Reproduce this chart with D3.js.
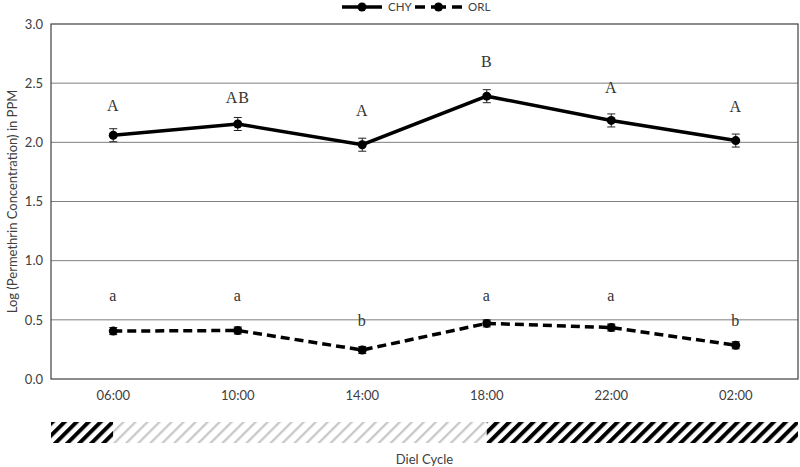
<!DOCTYPE html>
<html>
<head>
<meta charset="utf-8">
<script src="https://cdn.jsdelivr.net/npm/d3@7"></script>
<style>
  body { margin: 0; background: #fff; }
  svg { display: block; font-family: Lato, "Open Sans", sans-serif; }
</style>
</head>
<body>
<div id="chart"></div>
<script>
////////////////////////////////////////////////////////////////////////////////
// Data
var times = ['06:00', '10:00', '14:00', '18:00', '22:00', '02:00'];

var chyValues = [2.06, 2.155, 1.98, 2.39, 2.185, 2.015];
var chyErr    = [0.055, 0.055, 0.055, 0.055, 0.055, 0.055];
var chyLetters = ['A', 'AB', 'A', 'B', 'A', 'A'];
var chyLetterY = [2.30, 2.36, 2.25, 2.67, 2.45, 2.29];

var orlValues = [0.405, 0.41, 0.245, 0.47, 0.435, 0.285];
var orlErr    = [0.03, 0.03, 0.03, 0.03, 0.03, 0.03];
var orlLetters = ['a', 'a', 'b', 'a', 'a', 'b'];
var orlLetterY = [0.69, 0.69, 0.48, 0.69, 0.69, 0.48];

var yTicks = [0, 0.5, 1.0, 1.5, 2.0, 2.5, 3.0];

// light period (06:00 -> 18:00) and dark period for the diel bar
var dielBands = [
  {from: null, to: '06:00', dark: true},
  {from: '06:00', to: '18:00', dark: false},
  {from: '18:00', to: null, dark: true}
];

////////////////////////////////////////////////////////////////////////////////
var W = 800, H = 467;
var margin = {top: 24, right: 2, bottom: 88, left: 51};
var width = W - margin.left - margin.right,
    height = H - margin.top - margin.bottom;

var svg = d3.select('#chart').append('svg')
  .attr('width', W)
  .attr('height', H);

var defs = svg.append('defs');
function hatch(id, color, sw) {
  var p = defs.append('pattern')
    .attr('id', id)
    .attr('patternUnits', 'userSpaceOnUse')
    .attr('width', 8.5).attr('height', 8.5)
    .attr('patternTransform', 'rotate(45)');
  p.append('rect').attr('width', 8.5).attr('height', 8.5).attr('fill', '#fff');
  p.append('line')
    .attr('x1', 0).attr('y1', 0).attr('x2', 0).attr('y2', 8.5)
    .attr('stroke', color).attr('stroke-width', sw);
}
hatch('darkHatch', '#000', 8);
hatch('lightHatch', '#c8c8c8', 4.5);

var g = svg.append('g')
  .attr('transform', 'translate(' + margin.left + ',' + margin.top + ')');

var x = d3.scaleBand().domain(times).range([0, width]);
var y = d3.scaleLinear().domain([0, 3]).range([height, 0]);
function cx(t) { return x(t) + x.bandwidth() / 2; }

// gridlines
g.append('g')
  .selectAll('line')
  .data(yTicks.filter(function(d){ return d > 0 && d < 3; }))
  .enter().append('line')
  .attr('x1', 0).attr('x2', width)
  .attr('y1', function(d){ return y(d); })
  .attr('y2', function(d){ return y(d); })
  .attr('stroke', '#7f7f7f').attr('stroke-width', 1);

// plot border
g.append('rect')
  .attr('x', 0).attr('y', 0)
  .attr('width', width).attr('height', height)
  .attr('fill', 'none')
  .attr('stroke', '#404040').attr('stroke-width', 1.2);

// y axis
var yAxis = g.append('g')
  .call(d3.axisLeft(y).tickValues(yTicks).tickFormat(d3.format('.1f')).tickSize(0).tickPadding(8));
yAxis.select('.domain').remove();
yAxis.selectAll('text').style('font-size', '13px').style('font-family', 'Lato, sans-serif').attr('fill', '#404040');

// x axis
var xAxis = g.append('g')
  .attr('transform', 'translate(0,' + height + ')')
  .call(d3.axisBottom(x).tickSize(0).tickPadding(12));
xAxis.select('.domain').remove();
xAxis.selectAll('text').style('font-size', '13px').style('font-family', 'Lato, sans-serif').attr('fill', '#404040');

// axis titles
svg.append('text')
  .attr('transform', 'translate(14,' + (margin.top + height / 2) + ') rotate(-90)')
  .attr('text-anchor', 'middle')
  .attr('dominant-baseline', 'middle')
  .style('font-size', '13px')
  .attr('fill', '#404040')
  .text('Log (Permethrin Concentration) in PPM');

svg.append('text')
  .attr('x', margin.left + width / 2)
  .attr('y', 464)
  .attr('text-anchor', 'middle')
  .style('font-size', '13px')
  .attr('fill', '#404040')
  .text('Diel Cycle');

// diel bar
var barY = 422, barH = 21;
g.append('g').selectAll('rect')
  .data(dielBands)
  .enter().append('rect')
  .attr('x', function(d){ return d.from ? cx(d.from) : 0; })
  .attr('width', function(d){
    var a = d.from ? cx(d.from) : 0, b = d.to ? cx(d.to) : width;
    return b - a;
  })
  .attr('y', barY - margin.top)
  .attr('height', barH)
  .attr('fill', function(d){ return d.dark ? 'url(#darkHatch)' : 'url(#lightHatch)'; });

////////////////////////////////////////////////////////////////////////////////
// series
function drawSeries(vals, errs, letters, letterY, dash) {
  var data = times.map(function(t, i){
    return {t: t, v: vals[i], e: errs[i], l: letters[i], ly: letterY[i]};
  });
  g.append('path')
    .datum(data)
    .attr('fill', 'none')
    .attr('stroke', '#000')
    .attr('stroke-width', 3.5)
    .attr('stroke-dasharray', dash)
    .attr('d', d3.line()
      .x(function(d){ return cx(d.t); })
      .y(function(d){ return y(d.v); }));

  var eb = g.append('g').selectAll('g').data(data).enter().append('g')
    .attr('stroke', '#222').attr('stroke-width', 1);
  eb.append('line')
    .attr('x1', function(d){ return cx(d.t); })
    .attr('x2', function(d){ return cx(d.t); })
    .attr('y1', function(d){ return y(d.v - d.e); })
    .attr('y2', function(d){ return y(d.v + d.e); });
  [1, -1].forEach(function(s){
    eb.append('line')
      .attr('x1', function(d){ return cx(d.t) - 4; })
      .attr('x2', function(d){ return cx(d.t) + 4; })
      .attr('y1', function(d){ return y(d.v + s * d.e); })
      .attr('y2', function(d){ return y(d.v + s * d.e); });
  });

  g.append('g').selectAll('circle').data(data).enter().append('circle')
    .attr('cx', function(d){ return cx(d.t); })
    .attr('cy', function(d){ return y(d.v); })
    .attr('r', 4.5)
    .attr('fill', '#000');

  g.append('g').selectAll('text').data(data).enter().append('text')
    .attr('x', function(d){ return cx(d.t); })
    .attr('y', function(d){ return y(d.ly); })
    .attr('text-anchor', 'middle')
    .attr('dominant-baseline', 'middle')
    .style('font-family', '"Liberation Serif", "DejaVu Serif", serif')
    .style('font-size', '16px')
    .style('letter-spacing', '1px')
    .attr('fill', '#333')
    .text(function(d){ return d.l; });
}
drawSeries(chyValues, chyErr, chyLetters, chyLetterY, null);
drawSeries(orlValues, orlErr, orlLetters, orlLetterY, '9,5');

////////////////////////////////////////////////////////////////////////////////
// legend
var legend = svg.append('g').attr('transform', 'translate(0,7)');
var legendItems = [
  {name: 'CHY', x: 342, w: 40, dash: null},
  {name: 'ORL', x: 415, w: 47, dash: '10,6,15,6,10'}
];
legendItems.forEach(function(d){
  legend.append('line')
    .attr('x1', d.x).attr('x2', d.x + d.w).attr('y1', 0).attr('y2', 0)
    .attr('stroke', '#000').attr('stroke-width', 3.5)
    .attr('stroke-dasharray', d.dash);
  legend.append('circle')
    .attr('cx', d.x + d.w / 2).attr('cy', 0).attr('r', 4.5).attr('fill', '#000');
  legend.append('text')
    .attr('x', d.x + d.w + 6).attr('y', 4)
    .style('font-size', '11.5px')
    .attr('fill', '#404040')
    .text(d.name);
});
</script>
</body>
</html>
